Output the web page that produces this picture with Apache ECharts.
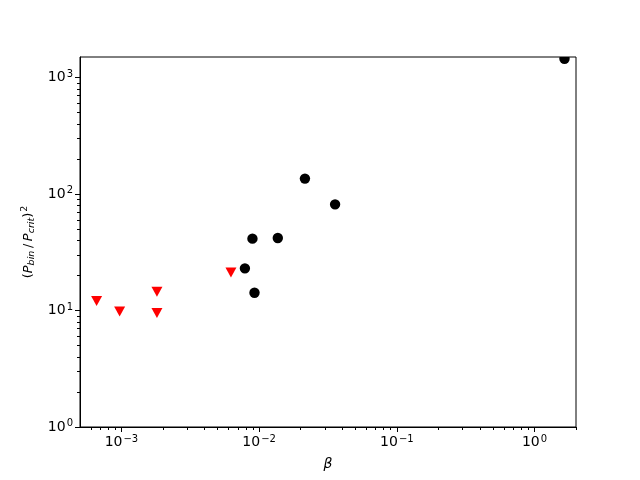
<!DOCTYPE html>
<html>
<head>
<meta charset="utf-8">
<script src="https://cdn.jsdelivr.net/npm/echarts@6/dist/echarts.min.js"></script>
<style>
  html, body { margin: 0; padding: 0; background: #fff; }
  #chart { width: 640px; height: 480px; }
</style>
</head>
<body>
<div id="chart"></div>
<script>
// detected binaries (black circles)
const circleBeta = [1.65, 0.0215, 0.0356, 0.00894, 0.01366, 0.00788, 0.00925];
const circleRatio = [1450, 135.6, 81.5, 41.4, 41.9, 23.0, 14.2];
// upper limits (red down triangles)
const limitBeta = [0.00066, 0.00097, 0.00181, 0.00181, 0.00624];
const limitRatio = [12.05, 9.8, 14.5, 9.5, 21.2];

const xMajor = [0.001, 0.01, 0.1, 1];
const yMajor = [1, 10, 100, 1000];
const xMinor = [0.0006, 0.0007, 0.0008, 0.0009,
  0.002, 0.003, 0.004, 0.005, 0.006, 0.007, 0.008, 0.009,
  0.02, 0.03, 0.04, 0.05, 0.06, 0.07, 0.08, 0.09,
  0.2, 0.3, 0.4, 0.5, 0.6, 0.7, 0.8, 0.9, 2];
const yMinor = [2, 3, 4, 5, 6, 7, 8, 9,
  20, 30, 40, 50, 60, 70, 80, 90,
  200, 300, 400, 500, 600, 700, 800, 900];

const font = 'DejaVu Sans';

function powLabel(v) {
  const e = Math.round(Math.log10(v));
  return '10{s|' + (e < 0 ? '\u2212' + (-e) : e) + '}';
}
const labelRich = {
  s: { fontSize: 10, fontFamily: font, color: '#000', padding: [0, 0, 7, 1] }
};

const chart = echarts.init(document.getElementById('chart'));
const option = {
  animation: false,
  grid: { left: 80, right: 64, top: 57, bottom: 53, show: true, borderColor: '#000', borderWidth: 1 },
  xAxis: [
    {
      type: 'log', min: 0.0005, max: 2,
      name: '\u03b2', nameLocation: 'middle', nameGap: 30,
      nameTextStyle: { fontFamily: font, fontSize: 14, fontStyle: 'italic', color: '#000' },
      axisLine: { lineStyle: { color: '#000', width: 1 } },
      axisTick: { customValues: xMajor, length: 5, lineStyle: { color: '#000' } },
      axisLabel: { customValues: xMajor, formatter: powLabel, rich: labelRich,
        fontFamily: font, fontSize: 14, color: '#000', margin: 7 },
      splitLine: { show: false }
    },
    {
      type: 'log', min: 0.0005, max: 2, position: 'bottom',
      axisLine: { show: false },
      axisTick: { customValues: xMinor, length: 3, lineStyle: { color: '#000' } },
      axisLabel: { show: false },
      splitLine: { show: false }
    }
  ],
  yAxis: [
    {
      type: 'log', min: 1, max: 1500,
      name: '({i|P}{b|bin}{n|\u2009/\u2009}{i|P}{b|crit}{n|)}{p|2}',
      nameLocation: 'middle', nameGap: 42, nameRotate: 90,
      nameTextStyle: {
        fontFamily: font, fontSize: 13, color: '#000',
        rich: {
          i: { fontFamily: font, fontSize: 13, fontStyle: 'italic', color: '#000' },
          n: { fontFamily: font, fontSize: 13, color: '#000' },
          b: { fontFamily: font, fontSize: 9.5, fontStyle: 'italic', color: '#000', padding: [6, 0, 0, 0] },
          p: { fontFamily: font, fontSize: 9.5, color: '#000', padding: [0, 0, 8, 1] }
        }
      },
      axisLine: { lineStyle: { color: '#000', width: 1 } },
      axisTick: { customValues: yMajor, length: 5, lineStyle: { color: '#000' } },
      axisLabel: { customValues: yMajor, formatter: powLabel, rich: labelRich,
        fontFamily: font, fontSize: 14, color: '#000', margin: 7 },
      splitLine: { show: false }
    },
    {
      type: 'log', min: 1, max: 1500, position: 'left',
      axisLine: { show: false },
      axisTick: { customValues: yMinor, length: 3, lineStyle: { color: '#000' } },
      axisLabel: { show: false },
      splitLine: { show: false }
    }
  ],
  series: [
    {
      // custom so the marker is cut at the frame like the original
      type: 'custom',
      clip: true,
      renderItem: function (params, api) {
        const p = api.coord([api.value(0), api.value(1)]);
        return { type: 'circle', shape: { cx: p[0], cy: p[1], r: 5.2 }, style: { fill: '#000' } };
      },
      encode: { x: 0, y: 1 },
      data: circleBeta.map((b, i) => [b, circleRatio[i]])
    },
    {
      type: 'scatter',
      symbol: 'triangle', symbolSize: [11, 10], symbolRotate: 180,
      itemStyle: { color: '#ff0000', opacity: 1 },
      data: limitBeta.map((b, i) => [b, limitRatio[i]])
    }
  ]
};
option && chart.setOption(option);
</script>
</body>
</html>
